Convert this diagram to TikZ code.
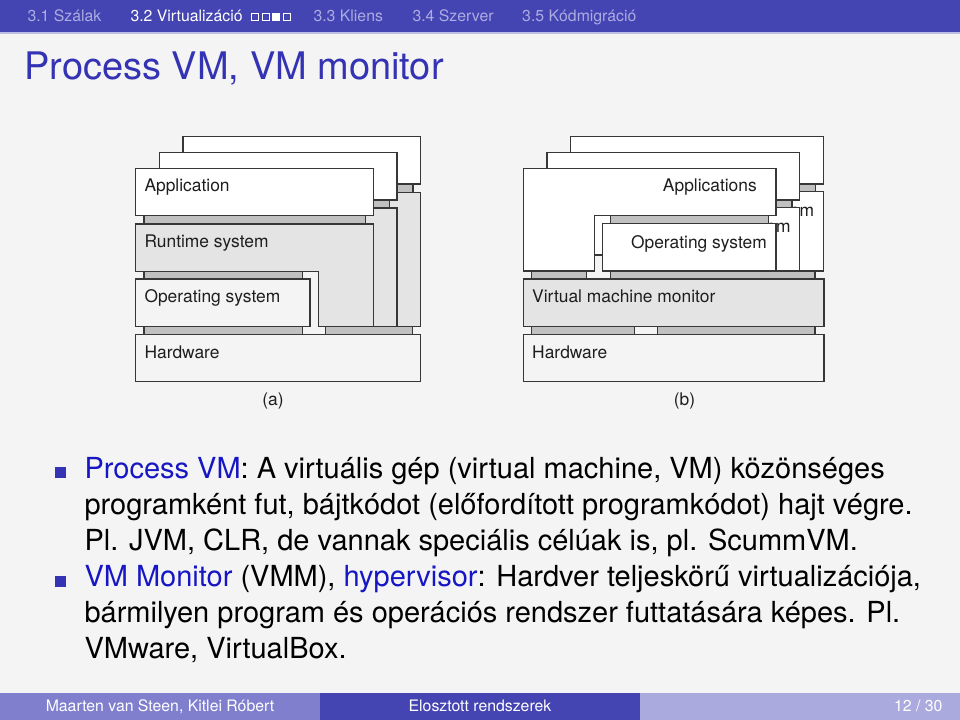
\documentclass[tikz,border=0pt]{standalone}
\usepackage{fontspec}
\setmainfont{TeX Gyre Heros}
\usetikzlibrary{positioning}
\definecolor{barblue}{RGB}{68,68,178}
\definecolor{titleblue}{RGB}{51,51,179}
\definecolor{headdim}{RGB}{172,172,226}
\definecolor{barline}{RGB}{190,190,228}
\definecolor{footleft}{RGB}{127,127,206}
\definecolor{footright}{RGB}{170,170,222}
\definecolor{pagebg}{RGB}{244,244,244}
\definecolor{alertblue}{RGB}{22,22,196}
\definecolor{boxline}{RGB}{55,55,55}
\definecolor{runtimegray}{RGB}{228,228,228}
\definecolor{linkgray}{RGB}{192,192,192}
\definecolor{figink}{RGB}{30,30,30}

\begin{document}
\begin{tikzpicture}[
  x=0.133333mm, y=-0.133333mm,
  layer/.style={draw=boxline, line width=0.6pt},
  link/.style={draw=boxline, line width=0.6pt, fill=linkgray},
  figtext/.style={font=\fontsize{6.6}{8}\selectfont, text=figink, inner sep=0pt},
  headtext/.style={font=\fontsize{6}{7}\selectfont, inner sep=0pt, anchor=base west},
  foottext/.style={font=\fontsize{6}{7}\selectfont, text=white, inner sep=0pt},
  bodytext/.style={font=\fontsize{11}{13.6}\selectfont, inner sep=0pt, anchor=base west},
  bullet/.style={fill=titleblue},
  miniframe/.style={draw=white, line width=0.4pt, inner sep=0pt, minimum size=0.95mm}
]
\fill[pagebg] (0,0) rectangle (960,720);
\useasboundingbox (0,0) rectangle (960,720);

% headline
\fill[barblue] (0,0) rectangle (960,32);
\draw[barline, line width=0.5pt] (0,33) -- (960,33);
\node[headtext, text=headdim] (sec1) at (27,21.5) {3.1 Szálak};
\node[headtext, text=white] (sec2) at (130,21.5) {3.2 Virtualizáció};
\node[miniframe] (mf1) at (255,17) {};
\node[miniframe] (mf2) at (265.7,17) {};
\node[miniframe, fill=white] (mf3) at (276.4,17) {};
\node[miniframe] (mf4) at (287.1,17) {};
\node[headtext, text=headdim] (sec3) at (313,21.5) {3.3 Kliens};
\node[headtext, text=headdim] (sec4) at (412,21.5) {3.4 Szerver};
\node[headtext, text=headdim] (sec5) at (521.7,21.5) {3.5 Kódmigráció};

% frame title
\node[anchor=base west, inner sep=0pt, font=\fontsize{14.4}{17}\selectfont, text=titleblue] (title) at (24,80) {Process VM, VM monitor};

% (a) process VM: back copies first
\foreach \k in {2,1} {
  \begin{scope}[shift={(23.7*\k,-15.8*\k)}]
    \filldraw[layer, fill=white] (135.7,168.3) rectangle (373.3,215.7);
    \filldraw[link] (144,215.7) rectangle (365.7,224);
    \filldraw[layer, fill=runtimegray] (135.7,224) -- (373.3,224) -- (373.3,{326.7+15.8*\k})
      -- (318.3,{326.7+15.8*\k}) -- (318.3,271.7) -- (135.7,271.7) -- cycle;
  \end{scope}
}
\filldraw[layer, fill=white] (135.7,168.3) rectangle (373.3,215.7);
\filldraw[link] (144,215.7) rectangle (365.7,224);
\filldraw[layer, fill=runtimegray] (135.7,224) -- (373.3,224) -- (373.3,326.7)
  -- (318.3,326.7) -- (318.3,271.7) -- (135.7,271.7) -- cycle;
\filldraw[link] (144,271.7) rectangle (302.3,279);
\filldraw[layer, fill=pagebg] (135.7,279) rectangle (310,326.7);
\filldraw[link] (144,326.7) rectangle (302.3,334.3);
\filldraw[link] (325.7,326.7) rectangle (412.7,334.3);
\filldraw[layer, fill=pagebg] (135.7,334.3) rectangle (420.7,381.7);
\node[figtext, anchor=base west] (appA) at (144,191.7) {Application};
\node[figtext, anchor=base west] (rtA) at (144,247.3) {Runtime system};
\node[figtext, anchor=base west] (osA) at (144,302.7) {Operating system};
\node[figtext, anchor=base west] (hwA) at (144,358.3) {Hardware};
\node[figtext, anchor=base] (capA) at (273,406) {(a)};

% (b) VM monitor: back copies first
\foreach \k in {2,1} {
  \begin{scope}[shift={(23.7*\k,-15.8*\k)}]
    \filldraw[layer, fill=white] (523.3,168.3) -- (776,168.3) -- (776,215.7) -- (594.3,215.7)
      -- (594.3,271) -- (523.3,271) -- cycle;
    \filldraw[link] (610.7,215.7) rectangle (768.3,223.3);
    \filldraw[layer, fill=white] (602.3,223.3) rectangle (776,{271+15.8*\k});
    \node[figtext, anchor=base east] (osB\k) at (767.3,248.3) {Operating system};
  \end{scope}
}
\filldraw[layer, fill=white] (523.3,168.3) -- (776,168.3) -- (776,215.7) -- (594.3,215.7)
  -- (594.3,271) -- (523.3,271) -- cycle;
\filldraw[link] (610.7,215.7) rectangle (768.3,223.3);
\filldraw[layer, fill=white] (602.3,223.3) rectangle (776,271);
\filldraw[link] (531.7,271) rectangle (586.7,279);
\filldraw[link] (610.7,271) rectangle (815,279);
\filldraw[layer, fill=runtimegray] (523.3,279) rectangle (824,326.7);
\filldraw[link] (531.7,326.7) rectangle (634.3,334.3);
\filldraw[link] (657.7,326.7) rectangle (815,334.3);
\filldraw[layer, fill=pagebg] (523.3,334.3) rectangle (824,381.7);
\node[figtext, anchor=base east] (appB) at (757.3,192) {Applications};
\node[figtext, anchor=base east] (osB) at (767.3,248.3) {Operating system};
\node[figtext, anchor=base west] (vmm) at (531.7,302.7) {Virtual machine monitor};
\node[figtext, anchor=base west] (hwB) at (531.7,358.3) {Hardware};
\node[figtext, anchor=base] (capB) at (684.5,406) {(b)};

% itemize
\fill[bullet] (55,467) rectangle (66,478);
\node[bodytext] (line1) at (84,478.3) {\textcolor{alertblue}{Process VM}: A virtuális gép (virtual machine, VM) közönséges};
\node[bodytext] (line2) at (84,514.4) {programként fut, bájtkódot (előfordított programkódot) hajt végre.};
\node[bodytext] (line3) at (84,550.5) {Pl. JVM, CLR, de vannak speciális célúak is, pl. ScummVM.};
\fill[bullet] (55,575.5) rectangle (66,586.5);
\node[bodytext] (line4) at (84,586.7) {\textcolor{alertblue}{VM Monitor} (VMM), \textcolor{alertblue}{hypervisor}: Hardver teljeskörű virtualizációja,};
\node[bodytext] (line5) at (84,622.8) {bármilyen program és operációs rendszer futtatására képes. Pl.};
\node[bodytext] (line6) at (84,658.9) {VMware, VirtualBox.};

% footline
\fill[footleft] (0,693) rectangle (320,720);
\fill[barblue] (320,693) rectangle (640,720);
\fill[footright] (640,693) rectangle (960,720);
\node[foottext, anchor=base] (author) at (160,711.5) {Maarten van Steen, Kitlei Róbert};
\node[foottext, anchor=base] (course) at (480,711.5) {Elosztott rendszerek};
\node[foottext, anchor=base east] (page) at (943,711.5) {12 / 30};
\end{tikzpicture}
\end{document}
